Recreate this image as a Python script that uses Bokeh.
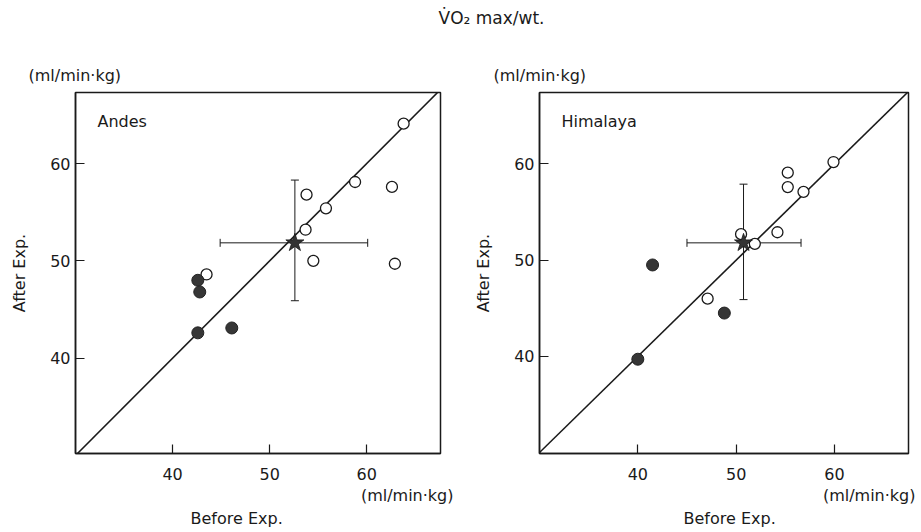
import math
from bokeh.plotting import figure
from bokeh.models import Range1d, Label, Whisker, TeeHead, ColumnDataSource, FixedTicker, Title
from bokeh.layouts import column, row
from bokeh.embed import file_html
from bokeh.resources import INLINE

# ---------------- data ----------------
title_text = "V\u0307O\u2082 max/wt."
unit_text = "(ml/min\u00b7kg)"
x_label = "Before Exp."
y_label = "After Exp."
ticks = [40, 50, 60]

# Andes
andes_open_x = [63.8, 58.8, 62.6, 53.8, 55.8, 53.7, 54.5, 62.9, 43.5]
andes_open_y = [64.1, 58.1, 57.6, 56.8, 55.4, 53.2, 50.0, 49.7, 48.6]
andes_fill_x = [42.6, 42.8, 42.6, 46.1]
andes_fill_y = [48.0, 46.8, 42.6, 43.1]
andes_mean = (52.6, 51.85)
andes_sd_x = (44.9, 60.1)
andes_sd_y = (45.9, 58.3)

# Himalaya
him_open_x = [59.9, 55.25, 55.25, 56.85, 54.2, 50.5, 51.9, 47.1]
him_open_y = [60.2, 59.1, 57.6, 57.1, 52.9, 52.7, 51.7, 46.0]
him_fill_x = [41.5, 48.8, 40.0]
him_fill_y = [49.5, 44.5, 39.7]
him_mean = (50.75, 51.8)
him_sd_x = (45.0, 56.6)
him_sd_y = (45.9, 57.9)

FONT = "DejaVu Sans"
INK = "#1a1a1a"
FS = "16px"

TOP = 40      # height of title strip
PH = 492      # panel figure height


def panel(name, width, bl, br, xr, yr, ox, oy, fx, fy, mean, sdx, sdy,
          yunit_off, xunit_off, xlabel_off):
    p = figure(width=width, height=PH, x_range=Range1d(*xr), y_range=Range1d(*yr),
               output_backend="svg", toolbar_location=None,
               min_border_left=bl, min_border_right=br, min_border_top=52, min_border_bottom=79)
    p.xgrid.visible = False
    p.ygrid.visible = False
    p.outline_line_color = INK
    p.outline_line_width = 1.5
    p.background_fill_color = "white"
    p.border_fill_color = "white"
    for ax in (p.xaxis, p.yaxis):
        ax.ticker = FixedTicker(ticks=ticks)
        ax.major_tick_in = 9
        ax.major_tick_out = 0
        ax.minor_tick_line_color = None
        ax.axis_line_color = INK
        ax.axis_line_width = 1.5
        ax.major_tick_line_color = INK
        ax.major_tick_line_width = 1.2
        ax.major_label_text_font = FONT
        ax.major_label_text_font_size = FS
        ax.major_label_text_color = INK
    p.xaxis.major_label_standoff = 14
    p.yaxis.major_label_standoff = 5
    p.yaxis.axis_label = y_label
    p.yaxis.axis_label_text_font = FONT
    p.yaxis.axis_label_text_font_size = FS
    p.yaxis.axis_label_text_font_style = "normal"
    p.yaxis.axis_label_text_color = INK
    p.yaxis.axis_label_standoff = 18

    # unit label above the y axis
    p.title.text = unit_text
    p.title.align = "left"
    p.title.offset = yunit_off
    p.title.text_font = FONT
    p.title.text_font_size = FS
    p.title.text_font_style = "normal"
    p.title.text_color = INK
    p.title.standoff = 16

    # below: unit, then axis title
    p.add_layout(Title(text=unit_text, align="right", offset=xunit_off, text_font=FONT,
                       text_font_size=FS, text_font_style="normal", text_color=INK,
                       standoff=2), "below")
    p.add_layout(Title(text=x_label, align="left", offset=xlabel_off, text_font=FONT,
                       text_font_size=FS, text_font_style="normal", text_color=INK,
                       standoff=2), "below")

    lo = max(xr[0], yr[0])
    hi = min(xr[1], yr[1])
    p.line([lo, hi], [lo, hi], line_color=INK, line_width=1.6)

    # error bars (mean +/- SD)
    src_v = ColumnDataSource(dict(x=[mean[0]], lower=[sdy[0]], upper=[sdy[1]]))
    p.add_layout(Whisker(source=src_v, base="x", lower="lower", upper="upper", dimension="height",
                         line_color=INK, line_width=1,
                         lower_head=TeeHead(size=8, line_color=INK, line_width=1),
                         upper_head=TeeHead(size=8, line_color=INK, line_width=1)))
    src_h = ColumnDataSource(dict(y=[mean[1]], lower=[sdx[0]], upper=[sdx[1]]))
    p.add_layout(Whisker(source=src_h, base="y", lower="lower", upper="upper", dimension="width",
                         line_color=INK, line_width=1,
                         lower_head=TeeHead(size=8, line_color=INK, line_width=1),
                         upper_head=TeeHead(size=8, line_color=INK, line_width=1)))

    p.scatter(ox, oy, marker="circle", size=11, fill_color="white", line_color=INK, line_width=1.3)
    p.scatter(fx, fy, marker="circle", size=12, fill_color="#363636", line_color="#222222", line_width=1)
    p.scatter([mean[0]], [mean[1]], marker="star", size=19, fill_color="#333333", line_color=INK,
              line_width=0.8)

    # panel name, in screen pixels from the frame's lower-left corner
    p.add_layout(Label(x=22, y=332, x_units="screen", y_units="screen", text=name,
                       text_font=FONT, text_font_size=FS, text_color=INK,
                       text_align="left", text_baseline="middle"))
    return p


left = panel("Andes", 466, 75, 26, (30.0, 67.6), (30.2, 67.3),
             andes_open_x, andes_open_y, andes_fill_x, andes_fill_y,
             andes_mean, andes_sd_x, andes_sd_y,
             yunit_off=-47, xunit_off=-13, xlabel_off=115)
right = panel("Himalaya", 455, 73, 13, (30.0, 67.53), (29.9, 67.43),
              him_open_x, him_open_y, him_fill_x, him_fill_y,
              him_mean, him_sd_x, him_sd_y,
              yunit_off=-46, xunit_off=-7, xlabel_off=144)

top = figure(width=921, height=TOP, x_range=(0, 1), y_range=(0, 1), output_backend="svg",
             toolbar_location=None, min_border=0)
top.axis.visible = False
top.grid.visible = False
top.outline_line_color = None
top.add_layout(Label(x=491, y=TOP - 17, x_units="screen", y_units="screen", text=title_text,
                     text_font=FONT, text_font_size="17px", text_color=INK,
                     text_align="center", text_baseline="middle"))

layout = column(top, row(left, right, spacing=0), spacing=0)
open("out.html", "w").write(file_html(layout, INLINE))
